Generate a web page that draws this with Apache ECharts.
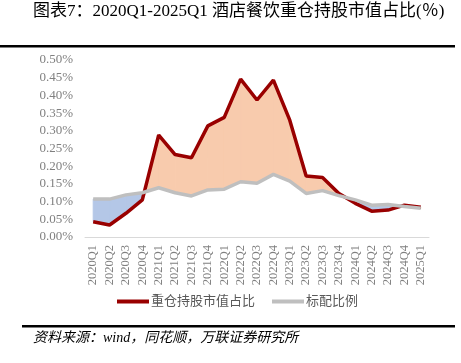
<!DOCTYPE html>
<html><head><meta charset="utf-8">
<script src="https://cdn.jsdelivr.net/npm/echarts@6/dist/echarts.min.js"></script>
<style>html,body{margin:0;padding:0;background:#fff}#c{width:461px;height:363px}</style>
</head><body><div id="c"></div>
<script>
var categories = ['2020Q1','2020Q2','2020Q3','2020Q4','2021Q1','2021Q2','2021Q3','2021Q4','2022Q1','2022Q2','2022Q3','2022Q4','2023Q1','2023Q2','2023Q3','2023Q4','2024Q1','2024Q2','2024Q3','2024Q4','2025Q1'];
var holding = [0.043,0.034,0.067,0.105,0.288,0.233,0.224,0.314,0.338,0.446,0.387,0.443,0.330,0.172,0.168,0.123,0.095,0.073,0.076,0.090,0.084];
var standard = [0.107,0.107,0.119,0.125,0.139,0.125,0.116,0.133,0.135,0.156,0.152,0.177,0.158,0.123,0.131,0.117,0.105,0.090,0.092,0.086,0.081];
var yTicks = [0,0.05,0.10,0.15,0.20,0.25,0.30,0.35,0.40,0.45,0.50];

var chart = echarts.init(document.getElementById('c'));
var serif = "'Liberation Serif','Noto Sans CJK SC',serif";
var ORANGE = '#F8CBAD', BLUE = '#B4C7E7';

function renderFill(params, api) {
  var i = api.value(0);
  if (i >= holding.length - 1) return;
  var r0 = api.coord([i, holding[i]]), r1 = api.coord([i+1, holding[i+1]]);
  var g0 = api.coord([i, standard[i]]), g1 = api.coord([i+1, standard[i+1]]);
  var d0 = holding[i] - standard[i], d1 = holding[i+1] - standard[i+1];
  var children = [];
  function poly(pts, color) {
    children.push({type:'polygon', shape:{points:pts}, style:{fill:color, stroke:color, lineWidth:1}});
  }
  if (d0 * d1 >= 0) {
    var pos = (d0 + d1) >= 0;
    poly([r0, r1, g1, g0], pos ? ORANGE : BLUE);
  } else {
    var t = d0 / (d0 - d1);
    var cx = [r0[0] + (r1[0]-r0[0])*t, r0[1] + (r1[1]-r0[1])*t];
    poly([r0, cx, g0], d0 > 0 ? ORANGE : BLUE);
    poly([cx, r1, g1], d1 > 0 ? ORANGE : BLUE);
  }
  return {type:'group', children: children};
}

chart.setOption({
  animation: false,
  grid: {left: 85, right: 32, top: 60, bottom: 126},
  legend: {
    data: [{name:'重仓持股市值占比', itemStyle:{color:'#990000'}}, {name:'标配比例', itemStyle:{color:'#BFBFBF'}}],
    bottom: 50, left: 112, itemGap: 17,
    icon: 'rect', itemWidth: 32, itemHeight: 4,
    textStyle: {fontFamily: serif, fontSize: 13, color: '#595959', padding: [0,0,0,-3]}
  },
  xAxis: {
    type: 'category', data: categories, boundaryGap: true,
    axisLine: {lineStyle: {color: '#D9D9D9', width: 1}},
    axisTick: {show: false},
    axisLabel: {rotate: 90, fontFamily: serif, fontSize: 12.5, color: '#808080', margin: 8}
  },
  yAxis: {
    type: 'value', min: 0, max: 0.5, interval: 0.05,
    splitLine: {show: false}, axisLine: {show: false}, axisTick: {show: false},
    axisLabel: {formatter: function(v){return v.toFixed(2)+'%';}, fontFamily: serif, fontSize: 13, color: '#808080', margin: 12}
  },
  series: [
    {type:'custom', name:'fill', renderItem: renderFill, data: categories.map(function(c,i){return [i];}), z: 1, silent: true},
    {type:'line', name:'重仓持股市值占比', data: holding, symbol:'none', lineStyle:{color:'#990000', width:3.5}, itemStyle:{color:'#990000'}, z: 3},
    {type:'line', name:'标配比例', data: standard, symbol:'none', lineStyle:{color:'#BFBFBF', width:3.5}, itemStyle:{color:'#BFBFBF'}, z: 4}
  ],
  graphic: [
    {type:'text', left: 33, top: 3, style:{text:'图表7：2020Q1-2025Q1 酒店餐饮重仓持股市值占比(％)', font: '17px ' + serif, fill:'#000'}},
    {type:'rect', shape:{x:0, y:45, width:455, height:2.5}, style:{fill:'#000'}},
    {type:'rect', shape:{x:22, y:325, width:433, height:2.5}, style:{fill:'#000'}},
    {type:'text', left: 33, top: 331, style:{text:'资料来源：wind，同花顺，万联证券研究所', font: 'italic 14px ' + serif, fill:'#000'}}
  ]
});
</script></body></html>
